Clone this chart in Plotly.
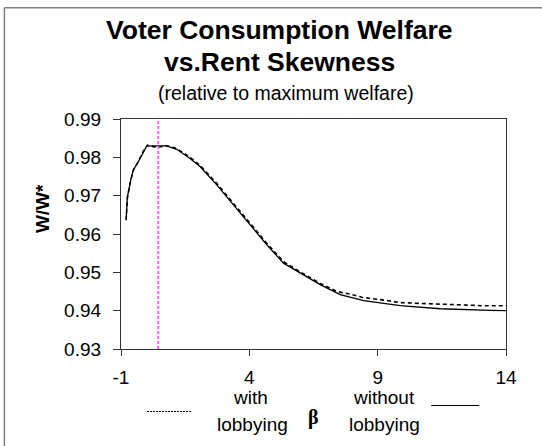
import plotly.graph_objects as go

# ---- data ----
beta_without = [-0.8, -0.75, -0.62, -0.52, -0.32, -0.13, 0.0, 0.4, 0.78, 1.17, 1.69, 2.08,
                2.73, 3.38, 4.03, 4.68, 5.33, 5.98, 6.76, 7.54, 8.45, 9.88, 11.44, 13.39, 14.0]
w_without = [0.9639, 0.9697, 0.9741, 0.9767, 0.9789, 0.9815, 0.9829, 0.9830, 0.9830, 0.9821,
             0.9797, 0.9776, 0.9728, 0.9676, 0.9624, 0.9572, 0.9524, 0.9498, 0.9468, 0.9442,
             0.9426, 0.9413, 0.9405, 0.9401, 0.9400]

beta_with = [-0.8, -0.75, -0.62, -0.52, -0.32, -0.13, 0.03, 0.39, 0.78, 1.17, 1.69, 2.08,
             2.73, 3.38, 4.03, 4.68, 5.33, 5.98, 6.76, 7.41, 7.93, 8.38, 9.42, 9.88, 11.44,
             13.06, 14.0]
w_with = [0.9636, 0.9695, 0.9740, 0.9766, 0.9790, 0.9816, 0.9832, 0.9826, 0.9830, 0.9823,
          0.9800, 0.9779, 0.9732, 0.9680, 0.9628, 0.9576, 0.9528, 0.9501, 0.9471, 0.9450,
          0.9443, 0.9435, 0.9426, 0.9421, 0.9417, 0.9413, 0.9413]

beta_marker = 0.45
x_ticks = [-1, 4, 9, 14]
y_ticks = [0.93, 0.94, 0.95, 0.96, 0.97, 0.98, 0.99]

FONT = "Liberation Sans, Arial, sans-serif"

# plot-area pixel geometry (for placing decorative text)
L, R, T, B = 121, 505.7, 119, 348.6
W, H = 542, 446


def px(x):
    return (x - L) / (R - L)


def py(y):
    return (B - y) / (B - T)


fig = go.Figure()
fig.add_trace(go.Scatter(x=beta_with, y=w_with, mode="lines",
                         line=dict(color="black", width=1.6, dash="4px,3px"),
                         showlegend=False, hoverinfo="skip"))
fig.add_trace(go.Scatter(x=beta_without, y=w_without, mode="lines",
                         line=dict(color="black", width=1.3),
                         showlegend=False, hoverinfo="skip"))
fig.add_trace(go.Scatter(x=[beta_marker, beta_marker], y=[0.93, 0.99], mode="lines",
                         line=dict(color="#FF5CFF", width=2, dash="3px,2px"),
                         showlegend=False, hoverinfo="skip"))

fig.update_layout(
    width=W, height=H,
    margin=dict(l=L, r=W - R, t=T, b=H - B),
    paper_bgcolor="white", plot_bgcolor="white",
    font=dict(family=FONT, size=19, color="black"),
    xaxis=dict(range=[-1, 14], tickvals=x_ticks, ticktext=[str(v) for v in x_ticks],
               showgrid=False, zeroline=False, showline=True, linecolor="#333333",
               linewidth=1.3, mirror=True, ticks="outside", ticklen=6, tickcolor="#333333",
               ticklabelstandoff=5, tickfont=dict(size=19)),
    yaxis=dict(range=[0.93, 0.99], tickvals=y_ticks, ticktext=[f"{v:.2f}" for v in y_ticks],
               showgrid=False, zeroline=False, showline=True, linecolor="#333333",
               linewidth=1.3, mirror=True, ticks="outside", ticklen=7, tickcolor="#333333",
               ticklabelstandoff=8, tickfont=dict(size=19)),
)

ann = []


def text(x, y, s, size=19, bold=False, family=FONT, **kw):
    ann.append(dict(x=px(x), y=py(y), xref="paper", yref="paper", text=(f"<b>{s}</b>" if bold else s),
                    showarrow=False, xanchor="center", yanchor="middle",
                    font=dict(family=family, size=size, color="black"), **kw))


text(279, 30, "Voter Consumption Welfare", size=26.5, bold=True)
text(279, 62, "vs.Rent Skewness", size=26.5, bold=True)
text(286, 93, "(relative to maximum welfare)", size=19.5)
text(42, 208, "W/W*", size=19, bold=True, textangle=-90)
text(250, 397, "with")
text(252, 424, "lobbying")
text(384, 397, "without")
text(384, 424, "lobbying")
text(313, 417, "β", size=20, bold=True, family="Liberation Serif, DejaVu Serif, serif")
fig.update_layout(annotations=ann)

shapes = [
    dict(type="line", xref="paper", yref="paper", x0=px(147), x1=px(192), y0=py(411), y1=py(411),
         line=dict(color="black", width=1, dash="2px,1px")),
    dict(type="line", xref="paper", yref="paper", x0=px(431), x1=px(479), y0=py(405), y1=py(405),
         line=dict(color="black", width=1)),
    # outer frame (partially visible)
    dict(type="line", xref="paper", yref="paper", x0=px(4.5), x1=px(4.5), y0=py(8), y1=py(460),
         line=dict(color="#808080", width=1.5)),
    dict(type="line", xref="paper", yref="paper", x0=px(4.5), x1=px(560), y0=py(8), y1=py(8),
         line=dict(color="#808080", width=1.5)),
]
fig.update_layout(shapes=shapes)

fig.write_html("out.html", config={"displayModeBar": False},
               post_script="document.body.style.margin='0';document.body.style.overflow='hidden';")
